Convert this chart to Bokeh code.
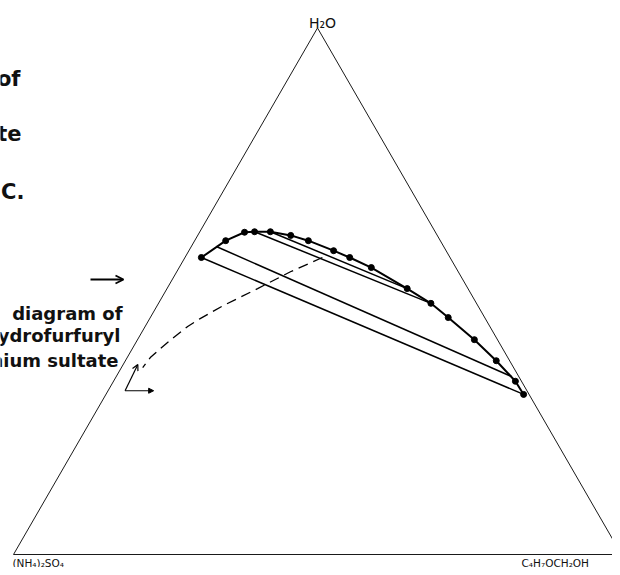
import math
from bokeh.plotting import figure
from bokeh.models import Range1d, Label, Arrow, OpenHead, NormalHead
from bokeh.embed import file_html
from bokeh.resources import INLINE

# Mass percent of water (H2O) and tetrahydrofurfuryl alcohol; remainder is (NH4)2SO4
vertex_labels = ["(NH₄)₂SO₄", "C₄H₇OCH₂OH", "H₂O"]
vertex_water = [0, 0, 100]
vertex_thfa = [0, 100, 0]

binodal_water = [56.4, 59.6, 61.2, 61.3, 61.3, 60.6, 59.6, 57.7, 56.4, 54.5,
                 50.5, 47.7, 45.0, 40.8, 36.8, 32.9, 30.4]
binodal_thfa = [2.7, 5.1, 7.4, 9.0, 11.6, 15.3, 18.7, 23.8, 27.1, 31.6,
                39.5, 44.8, 49.0, 55.4, 61.0, 66.1, 68.7]

tie_left_water = [56.4, 58.5, 61.3, 61.3]
tie_left_thfa = [2.7, 4.1, 9.0, 11.6]
tie_right_water = [30.4, 33.8, 47.7, 50.5]
tie_right_thfa = [68.7, 65.0, 44.8, 39.5]

conj_water = [56.4, 53.7, 50.5, 47.3, 44.8, 43.3, 41.0, 39.1, 37.4, 35.5]
conj_thfa = [22.6, 18.7, 14.9, 10.9, 8.3, 7.0, 5.6, 4.6, 3.8, 3.5]

marker_water = [31.1, 36.1, 31.1]   # corner, up tip, right tip
marker_thfa = [2.8, 2.4, 7.5]

caption_upper = ["of", "ate", "° C."]
caption_lower = ["diagram of", "ydrofurfuryl", "nium sultate"]


def tern(water, thfa):
    xs = [t / 100 + w / 200 for w, t in zip(water, thfa)]
    ys = [w / 100 * math.sqrt(3) / 2 for w in water]
    return xs, ys


W, H = 612, 567
p = figure(width=W, height=H,
           x_range=Range1d(-13 / 608, (W - 13) / 608),
           y_range=Range1d(-13 / 608, (H - 13) / 608),
           output_backend="svg", toolbar_location=None, min_border=0,
           x_axis_type=None, y_axis_type=None)
p.outline_line_color = None
p.grid.visible = False

# triangle
vx, vy = tern(vertex_water + vertex_water[:1], vertex_thfa + vertex_thfa[:1])
p.line(vx, vy, line_color="#1a1a1a", line_width=1)

# tie lines
lx, ly = tern(tie_left_water, tie_left_thfa)
rx, ry = tern(tie_right_water, tie_right_thfa)
p.segment(lx, ly, rx, ry, line_color="black", line_width=1.5)

# binodal curve
bx, by = tern(binodal_water, binodal_thfa)
p.line(bx, by, line_color="black", line_width=2)
p.scatter(bx, by, size=6, color="black")

# conjugate (dashed) curve
cx, cy = tern(conj_water, conj_thfa)
p.line(cx, cy, line_color="black", line_width=1.3, line_dash="10 6")

# small arrow marker
mx, my = tern(marker_water, marker_thfa)
p.add_layout(Arrow(end=OpenHead(size=6, line_width=1.2), line_width=1.2,
                   x_start=mx[0], y_start=my[0], x_end=mx[1], y_end=my[1]))
p.add_layout(Arrow(end=NormalHead(size=5, fill_color="black", line_width=1), line_width=1.2,
                   x_start=mx[0], y_start=my[0], x_end=mx[2], y_end=my[2]))

# vertex labels
vtx_x, vtx_y = tern(vertex_water, vertex_thfa)
p.add_layout(Label(x=vtx_x[0], y=vtx_y[0], text=vertex_labels[0], text_font="DejaVu Sans",
                   text_font_size="10.5px", text_align="left", text_baseline="alphabetic",
                   x_offset=-1, y_offset=-8, text_color="#111"))
p.add_layout(Label(x=vtx_x[1], y=vtx_y[1], text=vertex_labels[1], text_font="DejaVu Sans",
                   text_font_size="10.5px", text_align="left", text_baseline="alphabetic",
                   x_offset=-100, y_offset=-8, text_color="#111"))
p.add_layout(Label(x=vtx_x[2], y=vtx_y[2], text=vertex_labels[2], text_font="DejaVu Sans",
                   text_font_size="14px", text_align="center", text_baseline="alphabetic",
                   x_offset=5, y_offset=5, text_color="#111"))

# captions (cut off at the left edge, as in the source figure)
upper_pos = [(20, 489), (21, 434), (24, 376)]
for txt, (sx, sy) in zip(caption_upper, upper_pos):
    p.add_layout(Label(x=sx, y=sy, x_units="screen", y_units="screen", text=txt,
                       text_font="DejaVu Sans", text_font_style="bold", text_font_size="21px",
                       text_align="right", text_baseline="alphabetic", text_color="#111"))
lower_pos = [(122, 254), (120, 232), (118, 207)]
for txt, (sx, sy) in zip(caption_lower, lower_pos):
    p.add_layout(Label(x=sx, y=sy, x_units="screen", y_units="screen", text=txt,
                       text_font="DejaVu Sans", text_font_style="bold", text_font_size="18px",
                       text_align="right", text_baseline="alphabetic", text_color="#111"))

p.add_layout(Arrow(end=OpenHead(size=8, line_width=1.8), line_width=1.8,
                   x_start=90, y_start=288, x_end=123, y_end=288,
                   start_units="screen", end_units="screen"))

open("out.html", "w").write(file_html(p, INLINE))
